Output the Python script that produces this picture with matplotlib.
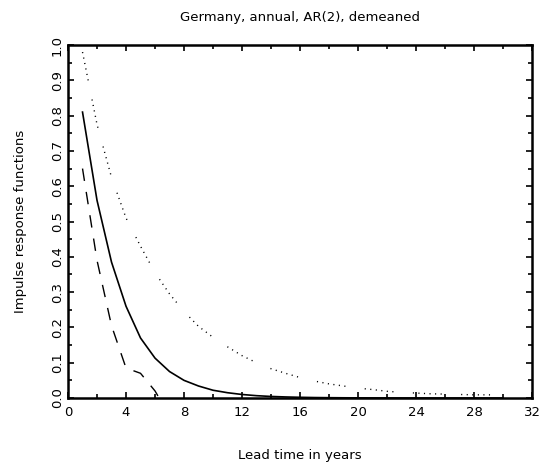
import numpy as np
import matplotlib
matplotlib.use('Agg')
import matplotlib.pyplot as plt
from matplotlib.ticker import MultipleLocator

# Datos
lead = np.arange(1, 31)
irf = [0.81, 0.56, 0.385, 0.26, 0.17, 0.113, 0.075, 0.05, 0.034, 0.022,
       0.015, 0.010, 0.0066, 0.0044, 0.003, 0.002, 0.0013, 0.0009, 0.0006, 0.0004,
       0.0003, 0.0002, 0.00013, 0.0001, 0.0001, 0.0, 0.0, 0.0, 0.0, 0.0]
upper = [0.98, 0.775, 0.625, 0.51, 0.43, 0.355, 0.295, 0.245, 0.203, 0.172,
         0.145, 0.12, 0.10, 0.083, 0.07, 0.058, 0.048, 0.04, 0.034, 0.028,
         0.024, 0.019, 0.016, 0.014, 0.012, 0.011, 0.010, 0.009, 0.009, 0.008]
lead_low = [1, 2, 3, 4, 5, 6, 7]
lower = [0.65, 0.39, 0.205, 0.085, 0.07, 0.02, -0.05]

title = 'Germany, annual, AR(2), demeaned'
xlab = 'Lead time in years'
ylab = 'Impulse response functions'

plt.rcParams['font.family'] = 'DejaVu Sans'
fig = plt.figure(figsize=(5.45, 4.66), dpi=100)
ax = fig.add_axes([0.1248, 0.1459, 0.8514, 0.7575])

ax.plot(lead, irf, color='black', lw=1.2)
ax.plot(lead, upper, color='black', lw=1.0,
        linestyle=(0, (0.8, 3.2) * 5 + (0.8, 14.0)))
ax.plot(lead_low, lower, color='black', lw=1.0, linestyle=(0, (9, 8)))

ax.set_xlim(0, 32)
ax.set_ylim(0, 1.0)
ax.xaxis.set_major_locator(MultipleLocator(4))
ax.xaxis.set_minor_locator(MultipleLocator(2))
ax.yaxis.set_major_locator(MultipleLocator(0.1))
ax.yaxis.set_minor_locator(MultipleLocator(0.05))
ax.yaxis.set_major_formatter(matplotlib.ticker.FormatStrFormatter('%.1f'))

ax.tick_params(which='both', direction='in', top=True, right=True,
               width=1.2, labelsize=9.5)
ax.tick_params(which='major', length=4)
ax.tick_params(which='minor', length=3)
ax.tick_params(axis='x', pad=6)
ax.tick_params(axis='y', pad=3)
for lbl in ax.get_yticklabels():
    lbl.set_rotation(90)
    lbl.set_va('center')
for s in ax.spines.values():
    s.set_linewidth(1.8)

ax.set_title(title, fontsize=9.5, pad=17)
ax.set_xlabel(xlab, fontsize=9.5, labelpad=21)
ax.set_ylabel(ylab, fontsize=9.5, labelpad=17)

plt.savefig('out.png', dpi=100)
